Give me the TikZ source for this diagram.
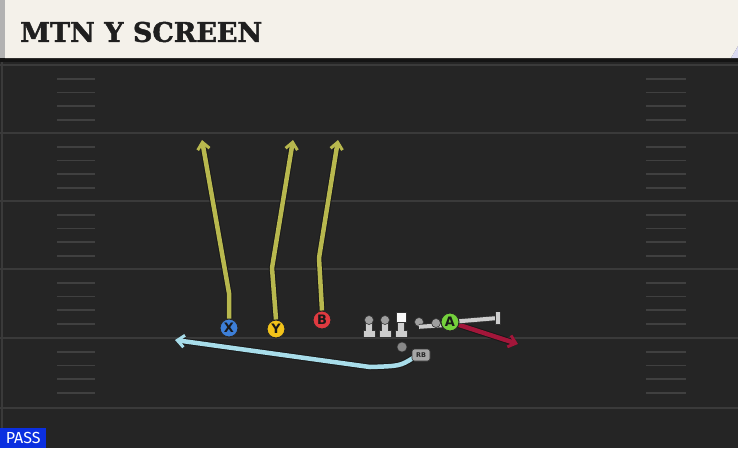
\documentclass[tikz,border=0pt]{standalone}
\usepackage{fontspec}
\setmainfont{DejaVu Sans}
\newfontfamily\titlefont{DejaVu Serif}[BoldFeatures={FakeBold=1.6}]
\newfontfamily\passfont{Fira Sans}
\usetikzlibrary{arrows.meta}
\definecolor{bg}{HTML}{252525}
\definecolor{yardc}{HTML}{3A3A3A}
\definecolor{hashc}{HTML}{404040}
\definecolor{cream}{HTML}{F4F1EA}
\definecolor{routey}{HTML}{B8B84E}
\definecolor{routeb}{HTML}{A8DDEA}
\definecolor{router}{HTML}{A3163A}
\definecolor{plx}{HTML}{3D7FD8}
\definecolor{ply}{HTML}{F2C31A}
\definecolor{plb}{HTML}{DF3A40}
\definecolor{pla}{HTML}{74D03C}
\definecolor{linec}{HTML}{CDCDCD}
\definecolor{passblue}{HTML}{0B2FE0}
\begin{document}
\begin{tikzpicture}[x=1pt,y=-1pt,
  player/.style={circle, draw=black!85, line width=1pt, minimum size=18pt, inner sep=0pt,
    font=\fontsize{13}{13}\selectfont\bfseries, text=black!90},
  route/.style={line width=4.5pt, line join=round,
    preaction={draw=black!90, line width=6.5pt}},
  yroute/.style={route, draw=routey, -{Straight Barb[length=7pt,width=12pt,line width=3pt]}},
  broute/.style={route, draw=routeb, -{Straight Barb[length=7pt,width=12pt,line width=3pt]}},
  rroute/.style={route, draw=router, -{Straight Barb[length=7pt,width=12pt,line width=3pt]}},
  yardline/.style={draw=yardc, line width=2pt},
  hashmark/.style={draw=hashc, line width=1.5pt},
  blockline/.style={draw=linec, line width=4pt, preaction={draw=black!80, line width=5.5pt}},
  headc/.style={circle, fill=gray!75, draw=black!80, line width=0.6pt, minimum size=9pt, inner sep=0pt},
  rbtag/.style={rounded corners=2.5pt, fill=gray!70, draw=black!80, line width=0.6pt, minimum width=18pt,
    minimum height=12pt, inner sep=0pt, font=\bfseries\fontsize{6.5}{6.5}\selectfont, text=black!85},
]
\useasboundingbox (0,0) rectangle (738,448);
\fill[bg] (0,0) rectangle (738,448);
% yard lines
\foreach \yy in {65,133,201,269,338,408}{
  \draw[yardline] (0,\yy) -- (738,\yy);
}
% hash marks
\foreach \yy in {65,133,201,269,338}{
  \foreach \k in {14,27.5,41,55}{
    \draw[hashmark] (57,\yy+\k) -- (95,\yy+\k);
    \draw[hashmark] (646,\yy+\k) -- (686,\yy+\k);
  }
}
\draw[yardc, line width=1.5pt] (2,62) -- (2,448);
% header
\fill[black!92] (0,56) rectangle (738,62);
\fill[cream] (5,0) -- (738,0) -- (738,46) -- (731,58) -- (5,58) -- cycle;
\fill[gray!60] (0,0) rectangle (5,58);
\fill[gray!55!blue!20] (738,46) -- (738,58) -- (731,58) -- cycle;
\node[anchor=west, inner sep=0pt, text=black!88] (title) at (20,32)
  {\titlefont\bfseries\fontsize{27}{27}\selectfont MTN Y SCREEN};
% PASS label
\node[fill=passblue, text=white, anchor=south west, minimum width=46pt, minimum height=20pt, inner sep=0pt,
  font=\passfont\fontsize{16}{16}\selectfont] (pass) at (0,448) {PASS};
% route end points
\coordinate (xb) at (229,293);
\coordinate (xt) at (202,140);
\coordinate (yb) at (272,268);
\coordinate (yt) at (293,140);
\coordinate (bb) at (319,258);
\coordinate (bt) at (338,140);
\coordinate (rbc) at (370,367);
\coordinate (rbt) at (175,340);
\coordinate (at) at (518,344);
\coordinate (ablk) at (498,318);
% players
\node[player, fill=plx] (X) at (229,328) {X};
\node[player, fill=ply] (Y) at (276,329) {Y};
\node[player, fill=plb] (B) at (322,320) {B};
% routes
\draw[yroute] (X.north) -- (xb) -- (xt);
\draw[yroute] (Y.north) -- (yb) -- (yt);
\draw[yroute] (B.north) -- (bb) -- (bt);
% linemen
\foreach \lx/\nm in {369/l1,385/l2}{
  \fill[black!80] (\lx-6.5,330) rectangle (\lx+6.5,337.5);
  \fill[black!80] (\lx-4,320) rectangle (\lx+4,332);
  \fill[linec] (\lx-5.5,331) rectangle (\lx+5.5,336.5);
  \fill[linec] (\lx-3,320) rectangle (\lx+3,332);
  \node[headc] (\nm) at (\lx,320) {};
}
\fill[black!80] (394.5,330) rectangle (407.5,337.5);
\fill[black!80] (397,320) rectangle (405,332);
\fill[linec] (395.5,331) rectangle (406.5,336.5);
\fill[linec] (398,320) rectangle (404,332);
\node[draw=black!80, fill=white!95!gray, line width=0.6pt, minimum width=10pt, minimum height=10pt, inner sep=0pt] (c) at (401,317) {};
\node[headc] (l4) at (419,322) {};
\draw[blockline] (l4.south) -- (445,325);
\node[headc] (l5) at (436,323) {};
% A player with block
\draw[rroute] (450,322) -- (at);
\draw[blockline] (450,322) -- (ablk);
\draw[draw=black!80, line width=5.5pt] (ablk) ++(0,-6.5) -- ++(0,13);
\draw[draw=linec, line width=4pt] (ablk) ++(0,-6) -- ++(0,12);
\node[player, fill=pla] (A) at (450,322) {A};
% QB and RB
\node[circle, fill=gray!45!black!60, draw=black!80, line width=0.5pt, minimum size=10pt, inner sep=0pt] (qb) at (402,347) {};
\draw[broute] (413,358) .. controls (400,366) .. (rbc) -- (rbt);
\node[rbtag] (RB) at (421,355) {RB};
\end{tikzpicture}
\end{document}
